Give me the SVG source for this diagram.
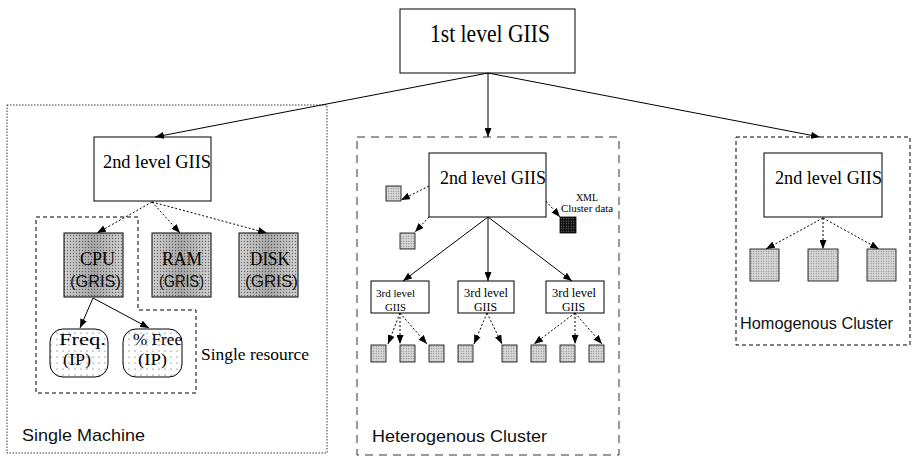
<svg xmlns="http://www.w3.org/2000/svg" width="912" height="457" viewBox="0 0 912 457">
<style>
.box{fill:#fff;stroke:#000;stroke-width:1}
.serif{font-family:"Liberation Serif","Times New Roman",serif;fill:#000}
.sans{font-family:"Liberation Sans",Arial,sans-serif;fill:#111}
.conn{fill:none;stroke:#000;stroke-width:1}
.dot{fill:none;stroke:#000;stroke-width:1;stroke-dasharray:2,2}
.gris{fill:url(#halftone);stroke:#000;stroke-width:1}
.sq{fill:url(#halftone2);stroke:#000;stroke-width:0.8}
</style>
<defs>
<marker id="ah" markerWidth="9" markerHeight="7" refX="9" refY="3.5" orient="auto" markerUnits="userSpaceOnUse">
<path d="M0,0 L9,3.5 L0,7 z" fill="#000"/>
</marker>
<pattern id="halftone" width="3" height="3" patternUnits="userSpaceOnUse">
<rect width="3" height="3" fill="#d2d2d2"/>
<circle cx="1.5" cy="1.5" r="0.7" fill="#6a6a6a"/>
</pattern>
<pattern id="halftone2" width="2.5" height="2.5" patternUnits="userSpaceOnUse">
<rect width="2.5" height="2.5" fill="#d8d8d8"/>
<circle cx="1.25" cy="1.25" r="0.6" fill="#808080"/>
</pattern>
<pattern id="darkdots" width="2.5" height="2.5" patternUnits="userSpaceOnUse">
<rect width="2.5" height="2.5" fill="#111"/>
<circle cx="1.25" cy="1.25" r="0.6" fill="#777"/>
</pattern>
<pattern id="sparse" width="6" height="6" patternUnits="userSpaceOnUse">
<rect width="6" height="6" fill="#fff"/>
<circle cx="3" cy="3" r="0.6" fill="#444"/>
</pattern>
<linearGradient id="band" x1="0" y1="0" x2="1" y2="0">
<stop offset="0" stop-color="#000" stop-opacity="0"/>
<stop offset="0.5" stop-color="#000" stop-opacity="0.2"/>
<stop offset="1" stop-color="#000" stop-opacity="0"/>
</linearGradient>
</defs>

<!-- containers -->
<g id="single-machine">
<rect x="7" y="105" width="320" height="348" fill="none" stroke="#000" stroke-width="0.8" stroke-dasharray="1.5,1.5"/>
<text class="sans" x="22" y="441" font-size="17" textLength="123" lengthAdjust="spacingAndGlyphs">Single Machine</text>
</g>
<g id="single-resource">
<path d="M36,217 L138,217 L138,310 L196,310 L196,393 L36,393 Z" fill="none" stroke="#000" stroke-width="1" stroke-dasharray="4,3"/>
<text class="serif" x="201" y="360" font-size="17" textLength="108" lengthAdjust="spacingAndGlyphs">Single resource</text>
</g>
<g id="heterogenous-cluster">
<rect x="357" y="137" width="262" height="318" fill="none" stroke="#333" stroke-width="1" stroke-dasharray="8,6"/>
<text class="sans" x="372" y="442" font-size="17" textLength="175" lengthAdjust="spacingAndGlyphs">Heterogenous Cluster</text>
</g>
<g id="homogenous-cluster">
<rect x="736" y="137" width="174" height="208" fill="none" stroke="#000" stroke-width="1" stroke-dasharray="4,3"/>
<text class="sans" x="740" y="329" font-size="17" textLength="153" lengthAdjust="spacingAndGlyphs">Homogenous Cluster</text>
</g>

<!-- nodes -->
<g id="giis1">
<rect class="box" x="400" y="9" width="175" height="64"/>
<text class="serif" x="430" y="42" font-size="25" textLength="120" lengthAdjust="spacingAndGlyphs">1st level GIIS</text>
</g>
<g id="giis2-sm">
<rect class="box" x="94" y="137" width="117" height="64"/>
<text class="serif" x="103" y="168" font-size="19" textLength="108" lengthAdjust="spacingAndGlyphs">2nd level GIIS</text>
</g>
<g id="giis2-het">
<rect class="box" x="429" y="153" width="117" height="64"/>
<text class="serif" x="440" y="184" font-size="19" textLength="106" lengthAdjust="spacingAndGlyphs">2nd level GIIS</text>
</g>
<g id="giis2-hom">
<rect class="box" x="764" y="153" width="118" height="64"/>
<text class="serif" x="775" y="184" font-size="19" textLength="107" lengthAdjust="spacingAndGlyphs">2nd level GIIS</text>
</g>

<g id="cpu">
<rect class="gris" x="64" y="233" width="59" height="64"/>
<rect x="64" y="233" width="59" height="64" fill="url(#band)"/>
<text class="serif" x="80" y="265" font-size="18" textLength="35" lengthAdjust="spacingAndGlyphs">CPU</text>
<text class="sans" x="70" y="287" font-size="17" textLength="51" lengthAdjust="spacingAndGlyphs">(GRIS)</text>
</g>
<g id="ram">
<rect class="gris" x="152" y="233" width="59" height="64"/>
<rect x="152" y="233" width="59" height="64" fill="url(#band)"/>
<text class="serif" x="162" y="265" font-size="18" textLength="40" lengthAdjust="spacingAndGlyphs">RAM</text>
<text class="sans" x="159" y="287" font-size="17" textLength="45" lengthAdjust="spacingAndGlyphs">(GRIS)</text>
</g>
<g id="disk">
<rect class="gris" x="239" y="233" width="59" height="64"/>
<rect x="239" y="233" width="59" height="64" fill="url(#band)"/>
<text class="serif" x="250" y="265" font-size="18" textLength="40" lengthAdjust="spacingAndGlyphs">DISK</text>
<text class="sans" x="245" y="287" font-size="17" textLength="53" lengthAdjust="spacingAndGlyphs">(GRIS)</text>
</g>
<g id="freq">
<rect x="50" y="329" width="58" height="48" rx="13" ry="13" fill="url(#sparse)" stroke="#000" stroke-width="1"/>
<text class="serif" x="59" y="345" font-size="17" textLength="47" lengthAdjust="spacingAndGlyphs">Freq.</text>
<text class="serif" x="63" y="365" font-size="17" textLength="28" lengthAdjust="spacingAndGlyphs">(IP)</text>
</g>
<g id="free">
<rect x="123" y="329" width="59" height="48" rx="13" ry="13" fill="url(#sparse)" stroke="#000" stroke-width="1"/>
<text class="serif" x="133" y="345" font-size="17" textLength="49" lengthAdjust="spacingAndGlyphs">% Free</text>
<text class="serif" x="138" y="365" font-size="17" textLength="29" lengthAdjust="spacingAndGlyphs">(IP)</text>
</g>

<g id="het-sq-a"><rect class="sq" x="386" y="186" width="15" height="15"/></g>
<g id="het-sq-b"><rect class="sq" x="400" y="233" width="15" height="16"/></g>
<g id="xml-data">
<rect x="560" y="217" width="16" height="16" fill="url(#darkdots)" stroke="#000" stroke-width="0.8"/>
<text class="serif" x="587" y="201" font-size="10" text-anchor="middle">XML</text>
<text class="serif" x="561" y="212" font-size="10" textLength="52" lengthAdjust="spacingAndGlyphs">Cluster data</text>
</g>

<g id="giis3-a">
<rect class="box" x="371" y="281" width="58" height="32"/>
<text class="serif" x="376" y="297" font-size="11" textLength="39" lengthAdjust="spacingAndGlyphs">3rd level</text>
<text class="serif" x="385" y="311" font-size="11" textLength="21" lengthAdjust="spacingAndGlyphs">GIIS</text>
</g>
<g id="giis3-b">
<rect class="box" x="458" y="281" width="56" height="32"/>
<text class="serif" x="464" y="297" font-size="12" textLength="44" lengthAdjust="spacingAndGlyphs">3rd level</text>
<text class="serif" x="474" y="311" font-size="12" textLength="23" lengthAdjust="spacingAndGlyphs">GIIS</text>
</g>
<g id="giis3-c">
<rect class="box" x="546" y="281" width="58" height="32"/>
<text class="serif" x="552" y="297" font-size="12" textLength="44" lengthAdjust="spacingAndGlyphs">3rd level</text>
<text class="serif" x="562" y="311" font-size="12" textLength="23" lengthAdjust="spacingAndGlyphs">GIIS</text>
</g>

<g id="leaf-1"><rect class="sq" x="371" y="345" width="15" height="17"/></g>
<g id="leaf-2"><rect class="sq" x="400" y="345" width="15" height="17"/></g>
<g id="leaf-3"><rect class="sq" x="429" y="345" width="15" height="17"/></g>
<g id="leaf-4"><rect class="sq" x="458" y="345" width="15" height="17"/></g>
<g id="leaf-5"><rect class="sq" x="502" y="345" width="15" height="17"/></g>
<g id="leaf-6"><rect class="sq" x="531" y="345" width="15" height="17"/></g>
<g id="leaf-7"><rect class="sq" x="560" y="345" width="15" height="17"/></g>
<g id="leaf-8"><rect class="sq" x="589" y="345" width="15" height="17"/></g>

<g id="hom-1"><rect class="sq" x="750" y="249" width="29" height="32"/></g>
<g id="hom-2"><rect class="sq" x="808" y="249" width="30" height="32"/></g>
<g id="hom-3"><rect class="sq" x="867" y="249" width="29" height="32"/></g>

<!-- connectors -->
<g id="connectors">
<line class="conn" x1="488" y1="73" x2="155" y2="137" marker-end="url(#ah)"/>
<line class="conn" x1="488" y1="73" x2="488" y2="137" marker-end="url(#ah)"/>
<line class="conn" x1="488" y1="73" x2="820" y2="137" marker-end="url(#ah)"/>

<line class="dot" x1="152" y1="202" x2="97" y2="233" marker-end="url(#ah)"/>
<line class="dot" x1="152" y1="202" x2="180" y2="233" marker-end="url(#ah)"/>
<line class="dot" x1="152" y1="202" x2="267" y2="233" marker-end="url(#ah)"/>
<line class="conn" x1="93" y1="298" x2="80" y2="328" marker-end="url(#ah)"/>
<line class="conn" x1="93" y1="298" x2="149" y2="328" marker-end="url(#ah)"/>

<line class="dot" x1="429" y1="186" x2="401" y2="200" marker-end="url(#ah)"/>
<line class="dot" x1="429" y1="217" x2="415" y2="232" marker-end="url(#ah)"/>
<line class="dot" x1="546" y1="201" x2="560" y2="217" marker-end="url(#ah)"/>

<line class="conn" x1="488" y1="217" x2="403" y2="281" marker-end="url(#ah)"/>
<line class="conn" x1="488" y1="217" x2="488" y2="281" marker-end="url(#ah)"/>
<line class="conn" x1="488" y1="217" x2="572" y2="281" marker-end="url(#ah)"/>

<line class="dot" x1="400" y1="313" x2="388" y2="344" marker-end="url(#ah)"/>
<line class="dot" x1="400" y1="313" x2="400" y2="344" marker-end="url(#ah)"/>
<line class="dot" x1="400" y1="313" x2="427" y2="344" marker-end="url(#ah)"/>
<line class="dot" x1="487" y1="313" x2="474" y2="344" marker-end="url(#ah)"/>
<line class="dot" x1="487" y1="313" x2="502" y2="344" marker-end="url(#ah)"/>
<line class="dot" x1="575" y1="313" x2="534" y2="344" marker-end="url(#ah)"/>
<line class="dot" x1="575" y1="313" x2="575" y2="344" marker-end="url(#ah)"/>
<line class="dot" x1="575" y1="313" x2="602" y2="344" marker-end="url(#ah)"/>

<line class="dot" x1="823" y1="218" x2="766" y2="249" marker-end="url(#ah)"/>
<line class="dot" x1="823" y1="218" x2="823" y2="249" marker-end="url(#ah)"/>
<line class="dot" x1="823" y1="218" x2="879" y2="249" marker-end="url(#ah)"/>
</g>
</svg>
